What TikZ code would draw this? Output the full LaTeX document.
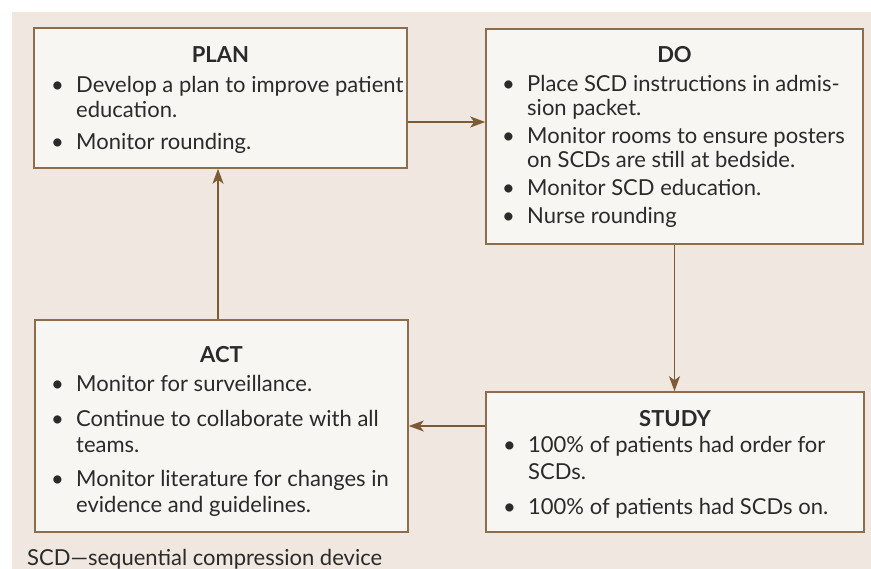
\documentclass[tikz,border=0pt]{standalone}
\usepackage{fontspec}
\setmainfont{Lato}
\usetikzlibrary{arrows.meta}
\definecolor{bgc}{HTML}{EFE7E0}
\definecolor{boxfill}{HTML}{F8F6F2}
\definecolor{boxline}{HTML}{8C6D4C}
\definecolor{arrowc}{HTML}{7B5A34}
\definecolor{txt}{HTML}{2A2A2A}
\newcommand{\bl}{\textbullet}
\tikzset{
  pbox/.style={draw=boxline, fill=boxfill, line width=1.6pt, rectangle, inner sep=0pt},
  ttl/.style={anchor=base, inner sep=0pt, text=txt, font=\fontsize{22}{26}\selectfont\bfseries},
  lst/.style={anchor=base west, inner sep=0pt, text=txt},
  arr/.style={draw=arrowc, line width=1.5pt, -{Stealth[length=15pt,width=11pt,inset=4pt]}}
}
\begin{document}
\begin{tikzpicture}[x=1pt,y=-1pt]
\useasboundingbox (0,0) rectangle (871,569);
\fill[bgc] (12,12) rectangle (871,569);

% boxes
\node[pbox, minimum width=373pt, minimum height=140pt] (plan) at (220.5,98) {};
\node[pbox, minimum width=377pt, minimum height=215pt] (do) at (674.5,136.5) {};
\node[pbox, minimum width=373pt, minimum height=212pt] (act) at (221.5,426) {};
\node[pbox, minimum width=378pt, minimum height=140pt] (study) at (675,462) {};

% titles
\node[ttl] (plant) at (220.5,63) {PLAN};
\node[ttl] (dot) at (674.5,63) {DO};
\node[ttl] (actt) at (221.5,363) {ACT};
\node[ttl] (studyt) at (675,427) {STUDY};

% lists
\node[lst, font=\fontsize{22}{25}\selectfont] (planl) at (51,93) {\begin{tabular}[t]{@{}p{25pt}@{}l@{}}
\bl & Develop a plan to improve patient\\
 & education.\\[7pt]
\bl & Monitor rounding.
\end{tabular}};

\node[lst, font=\fontsize{22}{24}\selectfont] (dol) at (502,92) {\begin{tabular}[t]{@{}p{25pt}@{}l@{}}
\bl & Place SCD instructions in admis-\\
 & sion packet.\\[4pt]
\bl & Monitor rooms to ensure posters\\
 & on SCDs are still at bedside.\\[4pt]
\bl & Monitor SCD education.\\[4pt]
\bl & Nurse rounding
\end{tabular}};

\node[lst, font=\fontsize{22}{26}\selectfont] (actl) at (51,392) {\begin{tabular}[t]{@{}p{25pt}@{}l@{}}
\bl & Monitor for surveillance.\\[9pt]
\bl & Continue to collaborate with all\\
 & teams.\\[8pt]
\bl & Monitor literature for changes in\\
 & evidence and guidelines.
\end{tabular}};

\node[lst, font=\fontsize{22}{27}\selectfont] (studyl) at (503,453) {\begin{tabular}[t]{@{}p{25pt}@{}l@{}}
\bl & 100\% of patients had order for\\
 & SCDs.\\[8pt]
\bl & 100\% of patients had SCDs on.
\end{tabular}};

% footnote
\node[lst, font=\fontsize{22}{26}\selectfont] (note) at (27,565) {SCD—sequential compression device};

% connectors
\coordinate (pd) at (0,122);
\coordinate (ap) at (218,0);
\draw[arr] (plan.east |- pd) -- (do.west |- pd);
\draw[arr] (do.south) -- (do.south |- study.north);
\draw[arr] (study.west |- act.east) -- (act.east);
\draw[arr] (act.north -| ap) -- (plan.south -| ap);
\end{tikzpicture}
\end{document}
